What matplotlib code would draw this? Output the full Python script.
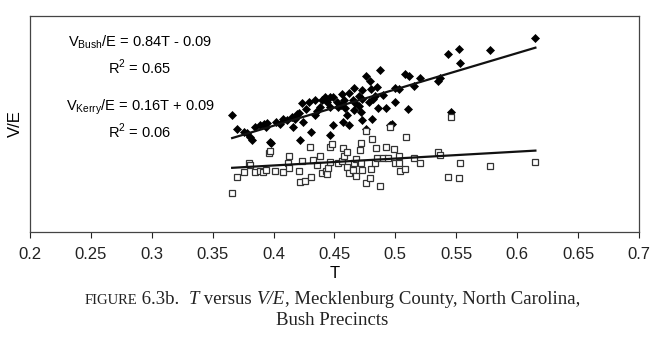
import numpy as np
import matplotlib
matplotlib.use("Agg")
import matplotlib.pyplot as plt

plt.rcParams['font.family'] = ['Liberation Sans', 'DejaVu Sans']
plt.rcParams['mathtext.fontset'] = 'custom'
plt.rcParams['mathtext.rm'] = 'Liberation Sans'

# T (turnout) and V/E for Bush precincts
bush_t = [0.366, 0.370, 0.376, 0.378, 0.381, 0.382, 0.385, 0.389, 0.392, 0.394,
          0.395, 0.397, 0.398, 0.402, 0.405, 0.408, 0.411, 0.415, 0.416, 0.418,
          0.419, 0.421, 0.422, 0.423, 0.424, 0.427, 0.429, 0.431, 0.434, 0.434,
          0.436, 0.438, 0.440, 0.442, 0.444, 0.446, 0.446, 0.446, 0.449, 0.449,
          0.452, 0.453, 0.455, 0.456, 0.457, 0.458, 0.459, 0.460, 0.462, 0.462,
          0.465, 0.466, 0.467, 0.466, 0.470, 0.470, 0.472, 0.473, 0.473, 0.473,
          0.476, 0.476, 0.478, 0.479, 0.480, 0.481, 0.482, 0.483, 0.485, 0.486,
          0.487, 0.490, 0.492, 0.496, 0.497, 0.500, 0.500, 0.503, 0.508, 0.510,
          0.511, 0.515, 0.520, 0.535, 0.537, 0.543, 0.546, 0.552, 0.553, 0.578,
          0.615]
bush_v = [0.270, 0.238, 0.232, 0.228, 0.221, 0.213, 0.244, 0.248, 0.249, 0.244,
          0.252, 0.209, 0.205, 0.255, 0.250, 0.261, 0.259, 0.267, 0.244, 0.262,
          0.272, 0.275, 0.213, 0.298, 0.255, 0.285, 0.302, 0.231, 0.306, 0.271,
          0.280, 0.290, 0.306, 0.313, 0.300, 0.313, 0.225, 0.290, 0.313, 0.248,
          0.300, 0.290, 0.295, 0.320, 0.255, 0.306, 0.286, 0.271, 0.322, 0.248,
          0.306, 0.333, 0.298, 0.282, 0.315, 0.292, 0.278, 0.307, 0.259, 0.329,
          0.360, 0.238, 0.300, 0.350, 0.330, 0.262, 0.307, 0.315, 0.335, 0.286,
          0.375, 0.317, 0.286, 0.248, 0.250, 0.302, 0.334, 0.330, 0.365, 0.284,
          0.361, 0.339, 0.357, 0.350, 0.357, 0.411, 0.278, 0.424, 0.392, 0.421,
          0.448]

# T and V/E for Kerry in the same precincts
kerry_t = [0.366, 0.370, 0.376, 0.380, 0.381, 0.385, 0.389, 0.391, 0.394, 0.396,
           0.397, 0.401, 0.408, 0.412, 0.413, 0.413, 0.421, 0.422, 0.423, 0.426,
           0.430, 0.431, 0.432, 0.436, 0.438, 0.440, 0.443, 0.444, 0.445, 0.446,
           0.446, 0.448, 0.453, 0.456, 0.457, 0.458, 0.460, 0.460, 0.462, 0.465,
           0.466, 0.468, 0.468, 0.471, 0.472, 0.472, 0.473, 0.476, 0.476, 0.479,
           0.480, 0.481, 0.483, 0.484, 0.485, 0.487, 0.490, 0.492, 0.494, 0.496,
           0.499, 0.500, 0.503, 0.503, 0.504, 0.508, 0.509, 0.515, 0.520, 0.535,
           0.537, 0.543, 0.546, 0.552, 0.553, 0.578, 0.615]
kerry_v = [0.090, 0.127, 0.140, 0.160, 0.155, 0.140, 0.141, 0.138, 0.144, 0.182,
           0.188, 0.141, 0.140, 0.159, 0.176, 0.147, 0.142, 0.116, 0.164, 0.118,
           0.197, 0.127, 0.167, 0.155, 0.176, 0.136, 0.142, 0.134, 0.147, 0.197,
           0.163, 0.204, 0.159, 0.165, 0.194, 0.175, 0.186, 0.150, 0.136, 0.144,
           0.159, 0.130, 0.170, 0.190, 0.207, 0.160, 0.144, 0.114, 0.234, 0.124,
           0.146, 0.215, 0.160, 0.195, 0.172, 0.106, 0.172, 0.197, 0.172, 0.242,
           0.191, 0.160, 0.176, 0.160, 0.141, 0.146, 0.221, 0.171, 0.159, 0.186,
           0.178, 0.128, 0.266, 0.126, 0.159, 0.153, 0.163]

# fitted lines
bush_fit = (0.84, -0.09)
kerry_fit = (0.16, 0.09)
xticks = [0.2, 0.25, 0.3, 0.35, 0.4, 0.45, 0.5, 0.55, 0.6, 0.65, 0.7]

SERIF = ['Liberation Serif', 'DejaVu Serif']
CAP_COLOR = '#222222'


def caption_line(fig, y, parts):
    # parts: (text, fontsize, style); laid out side by side, centred as a whole
    texts = []
    for s, size, style in parts:
        texts.append(fig.text(0, y, s, ha='left', va='baseline', fontsize=size,
                              family=SERIF, style=style, color=CAP_COLOR))
    fig.canvas.draw()
    r = fig.canvas.get_renderer()
    widths = [t.get_window_extent(r).width for t in texts]
    x = (fig.bbox.width - sum(widths)) / 2
    for t, w in zip(texts, widths):
        t.set_x(x / fig.bbox.width)
        x += w


def main():
    fig = plt.figure(figsize=(6.64, 3.51), dpi=100)
    ax = fig.add_axes([0.0452, 0.339, 0.917, 0.6155])

    ax.plot(bush_t, bush_v, 'D', color='black', ms=4.5, mew=0.5, zorder=3)
    ax.plot(kerry_t, kerry_v, 's', mfc='white', mec='#333333', ms=4.8, mew=0.9,
            zorder=3)

    tt = np.array([min(bush_t), max(bush_t)])
    ax.plot(tt, bush_fit[0] * tt + bush_fit[1], color='#111111', lw=1.6, zorder=4)
    tt = np.array([min(kerry_t), max(kerry_t)])
    ax.plot(tt, kerry_fit[0] * tt + kerry_fit[1], color='#111111', lw=1.6, zorder=4)

    ax.set_xlim(0.2, 0.7)
    ax.set_ylim(0, 0.5)
    ax.set_xticks(xticks)
    ax.set_xticklabels(['%g' % x for x in xticks], fontsize=12)
    ax.set_yticks([])
    ax.tick_params(axis='x', direction='out', length=4, width=0.8, pad=7,
                   colors='#222222')
    for s in ax.spines.values():
        s.set_color('#444444')
        s.set_linewidth(0.9)

    ax.set_xlabel('T', fontsize=12, labelpad=3)
    ax.set_ylabel('V/E', fontsize=12, labelpad=5)

    fs = 10.5
    fig.text(0.211, 0.880, r'V$_{\mathrm{Bush}}$/E = 0.84T - 0.09', ha='center',
             va='center', fontsize=fs)
    fig.text(0.211, 0.809, r'R$^{2}$ = 0.65', ha='center', va='center', fontsize=fs)
    fig.text(0.211, 0.695, r'V$_{\mathrm{Kerry}}$/E = 0.16T + 0.09', ha='center',
             va='center', fontsize=fs)
    fig.text(0.211, 0.627, r'R$^{2}$ = 0.06', ha='center', va='center', fontsize=fs)

    caption_line(fig, 0.135, [('FIGURE', 10.5, 'normal'),
                              (' 6.3b.  ', 13.5, 'normal'),
                              ('T', 13.5, 'italic'),
                              (' versus ', 13.5, 'normal'),
                              ('V/E', 13.5, 'italic'),
                              (', Mecklenburg County, North Carolina,', 13.5, 'normal')])
    caption_line(fig, 0.075, [('Bush Precincts', 13.5, 'normal')])

    fig.savefig('out.png', dpi=100)


if __name__ == "__main__":
    main()
